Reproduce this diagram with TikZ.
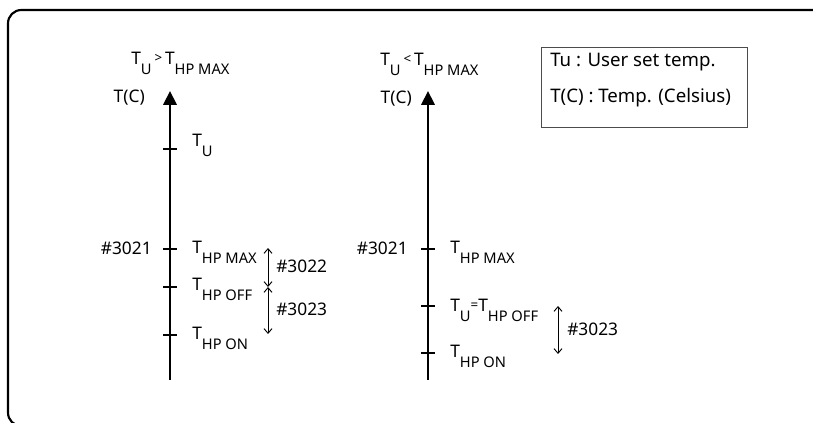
\documentclass[tikz,border=0pt]{standalone}
\usepackage{fontspec}
\setmainfont{Noto Sans}
\usetikzlibrary{arrows.meta}

\newcommand{\lsub}[1]{\raisebox{-6.8pt}{\fontsize{11}{11}\selectfont #1}}
\newcommand{\lrel}[1]{\raisebox{1.8pt}{\fontsize{10}{10}\selectfont #1}}

\begin{document}
\begin{tikzpicture}[
	x=0.75pt, y=-0.75pt,
	every node/.style={font=\fontsize{13}{15}\selectfont, inner sep=0pt},
	frame/.style={line width=1.6pt, rounded corners=10pt},
	axis/.style={line width=2.2pt, -{Triangle[length=10.5pt, width=10pt]}},
	tickmark/.style={line width=1.6pt},
	span/.style={line width=0.7pt, {Straight Barb[length=3.5pt, width=6pt]}-{Straight Barb[length=3.5pt, width=6pt]}},
	legendbox/.style={draw=black!70, line width=0.9pt, minimum width=154.5pt, minimum height=60pt},
	legendtext/.style={font=\fontsize{14}{16}\selectfont, anchor=base west}
	]
	
	\useasboundingbox (0,0) rectangle (813,423);
	\clip (0,0) rectangle (813,423);
	
	% Outer frame
	\draw[frame] (8,10) rectangle (840,426);
	
	% Axes
	\coordinate (L-bot) at (170,380);
	\coordinate (L-top) at (170,91);
	\coordinate (R-bot) at (428,380);
	\coordinate (R-top) at (428,91);
	\draw[axis] (L-bot) -- (L-top);
	\draw[axis] (R-bot) -- (R-top);
	
	% Tick marks
	\coordinate (L-u) at (170,149);
	\coordinate (L-max) at (170,249);
	\coordinate (L-off) at (170,287);
	\coordinate (L-on) at (170,335);
	\coordinate (R-max) at (428,249);
	\coordinate (R-off) at (428,306);
	\coordinate (R-on) at (428,353);
	\foreach \c in {L-u, L-max, L-off, L-on, R-max, R-off, R-on}
	{
		\draw[tickmark] ([xshift=-5.25pt]\c) -- ([xshift=5.25pt]\c);
	}
	
	% Left scale labels
	\node[anchor=base west] (titleL) at (131,65) {T\lsub{U}\,\lrel{>}\,T\lsub{HP MAX}};
	\node[anchor=base east] (tcL) at (145,103) {T(C)};
	\node[anchor=base west] (uL) at (192,147) {T\lsub{U}};
	\node[anchor=base west] (maxL) at (192,254) {T\lsub{HP MAX}};
	\node[anchor=base west] (offL) at (192,291) {T\lsub{HP OFF}};
	\node[anchor=base west] (onL) at (192,340) {T\lsub{HP ON}};
	\node[anchor=base east] (codeL) at (152,255) {\#3021};
	
	% Left ranges
	\coordinate (s1-top) at (268,248);
	\coordinate (s1-bot) at (268,287);
	\coordinate (s2-bot) at (268,334);
	\draw[span] (s1-top) -- (s1-bot);
	\draw[span] (s1-bot) -- (s2-bot);
	\node[anchor=base west] (code22) at (276,273) {\#3022};
	\node[anchor=base west] (code23L) at (276,316) {\#3023};
	
	% Right scale labels
	\node[anchor=base west] (titleR) at (380,66) {T\lsub{U}\,\lrel{<}\,T\lsub{HP MAX}};
	\node[anchor=base east] (tcR) at (412,104) {T(C)};
	\node[anchor=base east] (codeR) at (408,255) {\#3021};
	\node[anchor=base west] (maxR) at (450,254) {T\lsub{HP MAX}};
	\node[anchor=base west] (offR) at (450,312) {T\lsub{U}\lrel{=}T\lsub{HP OFF}};
	\node[anchor=base west] (onR) at (450,358) {T\lsub{HP ON}};
	
	% Right range
	\coordinate (s3-top) at (558,306);
	\coordinate (s3-bot) at (558,354);
	\draw[span] (s3-top) -- (s3-bot);
	\node[anchor=base west] (code23R) at (567,336) {\#3023};
	
	% Legend
	\node[legendbox, anchor=north west] (legend) at (541,47) {};
	\node[legendtext] (leg1) at (550,67) {Tu : User set temp.};
	\node[legendtext] (leg2) at (550,103) {T(C) : Temp. (Celsius)};
	
\end{tikzpicture}
\end{document}
